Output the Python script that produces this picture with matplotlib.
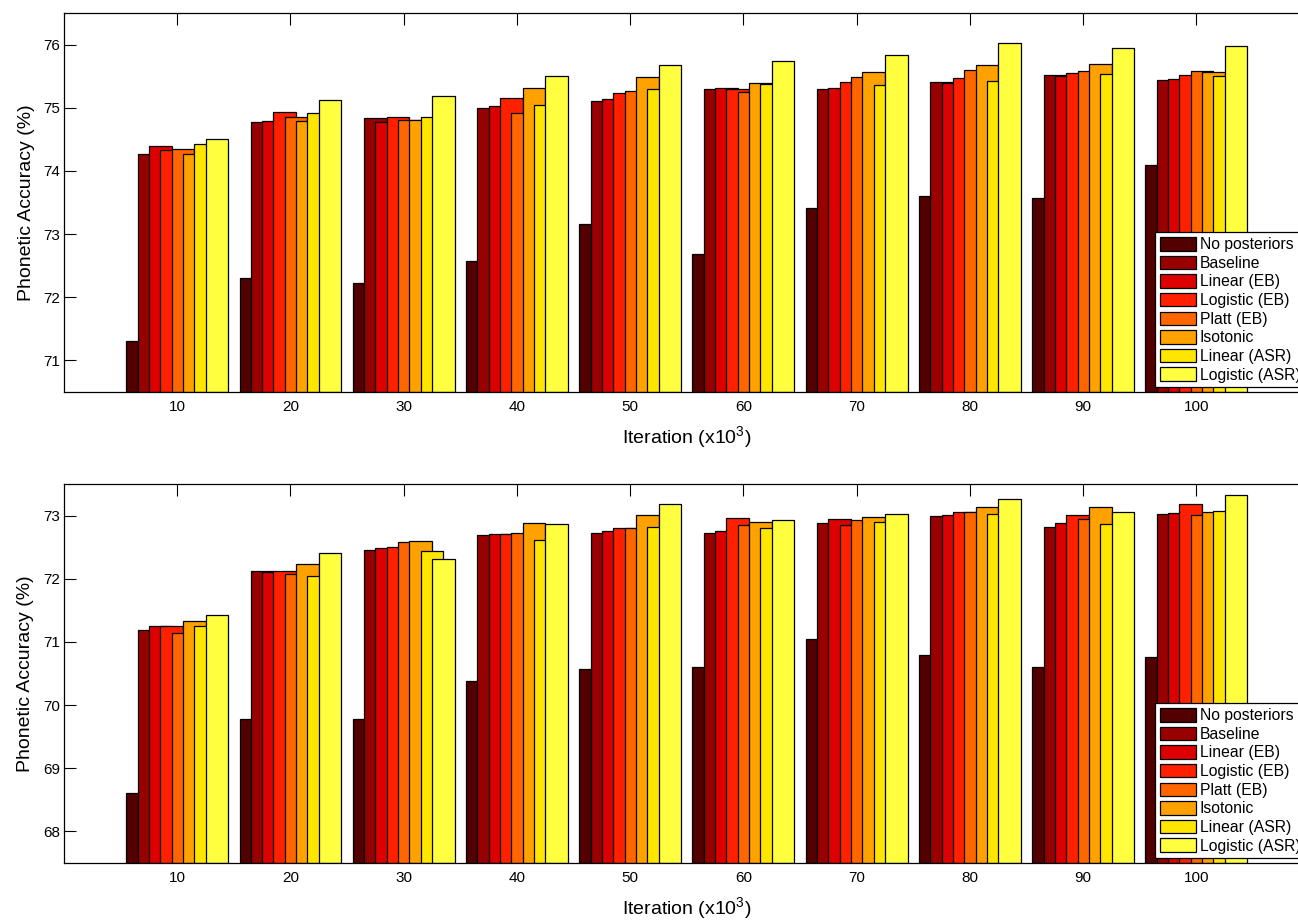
import numpy as np
import matplotlib
matplotlib.use("Agg")
import matplotlib.pyplot as plt

plt.rcParams['font.family'] = ['Liberation Sans', 'DejaVu Sans']
plt.rcParams['mathtext.fontset'] = 'custom'
plt.rcParams['mathtext.rm'] = 'Liberation Sans'
plt.rcParams['mathtext.it'] = 'Liberation Sans'

# iterations (x10^3)
iterations = [10, 20, 30, 40, 50, 60, 70, 80, 90, 100]
methods = ["No posteriors", "Baseline", "Linear (EB)", "Logistic (EB)",
           "Platt (EB)", "Isotonic", "Linear (ASR)", "Logistic (ASR)"]
colors = ["#520000", "#990000", "#dd0000", "#ff2000",
          "#ff6600", "#ffa200", "#ffe600", "#ffff40"]

# top panel, one list per method
top_nopost = [71.31, 72.31, 72.22, 72.57, 73.16, 72.69, 73.41, 73.60, 73.57, 74.10]
top_base = [74.26, 74.77, 74.84, 74.99, 75.11, 75.30, 75.29, 75.40, 75.52, 75.44]
top_lin_eb = [74.39, 74.79, 74.77, 75.02, 75.14, 75.32, 75.31, 75.39, 75.50, 75.46]
top_log_eb = [74.33, 74.94, 74.86, 75.16, 75.23, 75.30, 75.40, 75.47, 75.55, 75.52]
top_platt = [74.34, 74.85, 74.81, 74.92, 75.27, 75.25, 75.49, 75.60, 75.58, 75.58]
top_iso = [74.26, 74.79, 74.80, 75.31, 75.49, 75.39, 75.57, 75.67, 75.70, 75.57]
top_lin_asr = [74.42, 74.91, 74.85, 75.05, 75.30, 75.37, 75.36, 75.42, 75.54, 75.50]
top_log_asr = [74.50, 75.13, 75.18, 75.50, 75.68, 75.74, 75.83, 76.03, 75.95, 75.98]

# bottom panel
bot_nopost = [68.60, 69.78, 69.78, 70.38, 70.57, 70.60, 71.04, 70.79, 70.60, 70.76]
bot_base = [71.19, 72.12, 72.45, 72.69, 72.73, 72.73, 72.89, 72.99, 72.82, 73.03]
bot_lin_eb = [71.25, 72.11, 72.48, 72.71, 72.75, 72.75, 72.94, 73.01, 72.89, 73.04]
bot_log_eb = [71.25, 72.12, 72.51, 72.71, 72.80, 72.96, 72.85, 73.05, 73.01, 73.18]
bot_platt = [71.14, 72.08, 72.58, 72.73, 72.80, 72.85, 72.93, 73.05, 72.94, 73.01]
bot_iso = [71.33, 72.24, 72.59, 72.89, 73.01, 72.90, 72.97, 73.13, 73.13, 73.06]
bot_lin_asr = [71.25, 72.04, 72.44, 72.61, 72.82, 72.80, 72.90, 73.03, 72.86, 73.08]
bot_log_asr = [71.43, 72.41, 72.31, 72.86, 73.18, 72.93, 73.03, 73.26, 73.06, 73.33]

top_data = [top_nopost, top_base, top_lin_eb, top_log_eb,
            top_platt, top_iso, top_lin_asr, top_log_asr]
bot_data = [bot_nopost, bot_base, bot_lin_eb, bot_log_eb,
            bot_platt, bot_iso, bot_lin_asr, bot_log_asr]

fig = plt.figure(figsize=(12.98, 9.21), dpi=100)
ax1 = fig.add_axes([0.0493, 0.5744, 0.9597, 0.4115])
ax2 = fig.add_axes([0.0493, 0.0630, 0.9597, 0.4115])


def draw_panel(ax, data, ylim, yticks):
    x = np.array(iterations, dtype=float)
    # matlab-style grouped bars: each bar two slots wide, later ones drawn on top
    for i, (vals, c, name) in enumerate(zip(data, colors, methods)):
        ax.bar(x - 4.5 + i, np.array(vals) - ylim[0], width=2.0, bottom=ylim[0],
               align='edge', color=c, edgecolor='black', linewidth=0.9,
               label=name, zorder=2 + i)
    ax.set_xlim(0, 110)
    ax.set_ylim(*ylim)
    ax.set_xticks(iterations)
    ax.set_yticks(yticks)
    ax.tick_params(direction='in', length=8.5, width=0.8, top=True, right=True,
                   labelsize=11, colors='black')
    ax.tick_params(axis='x', pad=6)
    ax.tick_params(axis='y', pad=3)
    for s in ax.spines.values():
        s.set_linewidth(0.9)
        s.set_zorder(20)
    ax.set_ylabel("Phonetic Accuracy (%)", fontsize=14, labelpad=6)
    ax.set_xlabel("Iteration (x10$^3$)", fontsize=14, labelpad=7)
    leg = ax.legend(loc='lower right', fontsize=11.3, frameon=True, fancybox=False,
                    edgecolor='black', framealpha=1, borderaxespad=0.3,
                    handlelength=2.3, handleheight=0.95, labelspacing=0.22,
                    handletextpad=0.25, borderpad=0.3)
    leg.get_frame().set_linewidth(0.9)
    leg.set_zorder(30)


draw_panel(ax1, top_data, (70.5, 76.5), [71, 72, 73, 74, 75, 76])
draw_panel(ax2, bot_data, (67.5, 73.5), [68, 69, 70, 71, 72, 73])

fig.savefig("out.png", dpi=100)
